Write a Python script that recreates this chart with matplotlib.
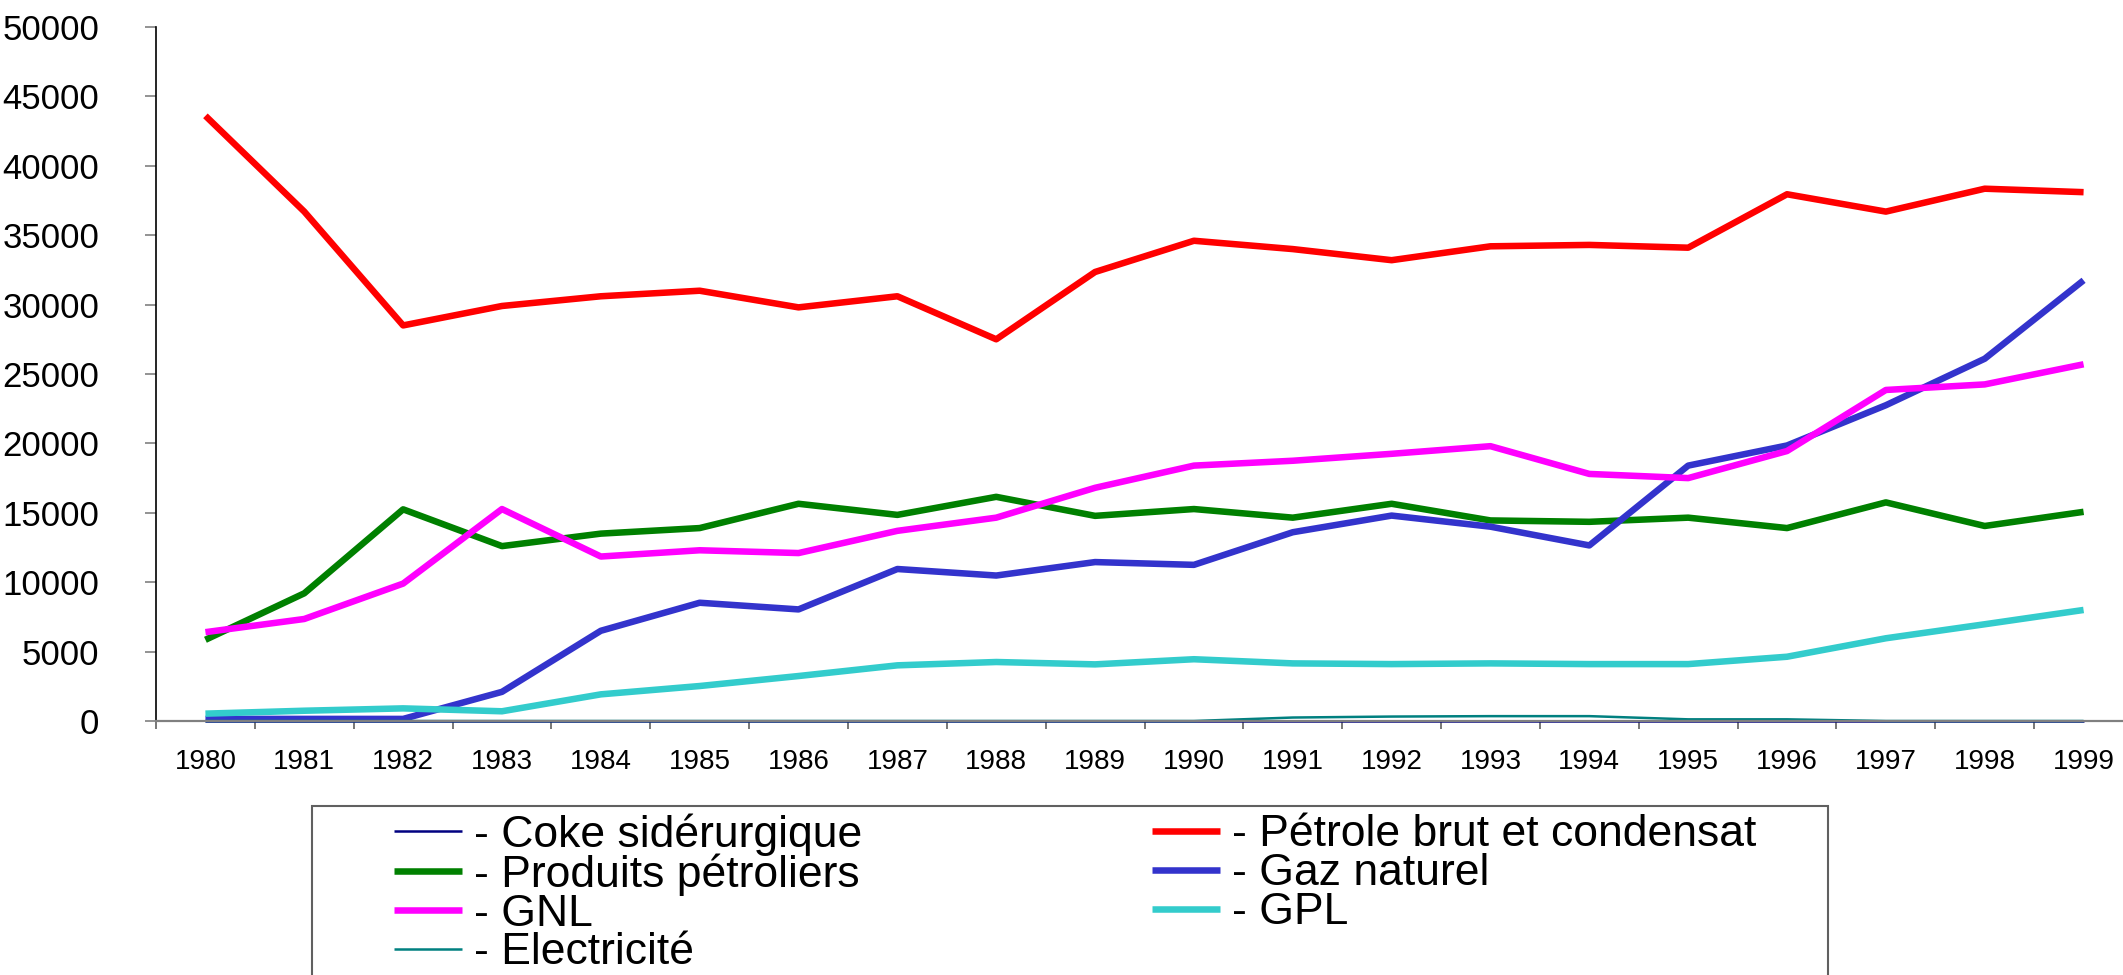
import numpy as np
import matplotlib
matplotlib.use("Agg")
import matplotlib.pyplot as plt
from matplotlib.patches import Rectangle

plt.rcParams['font.family'] = ['Liberation Sans', 'DejaVu Sans']

# Data
years = [str(y) for y in range(1980, 2000)]

coke = [0] * 20
petrole = [43600, 36700, 28500, 29900, 30600, 31000, 29800, 30600, 27500, 32350,
           34600, 34000, 33200, 34200, 34300, 34100, 37950, 36700, 38350, 38100]
produits = [5850, 9200, 15250, 12600, 13500, 13900, 15650, 14850, 16150, 14780,
            15270, 14650, 15650, 14450, 14350, 14650, 13900, 15750, 14050, 15070]
gaz = [150, 150, 150, 2100, 6500, 8520, 8040, 10950, 10480, 11450,
       11250, 13600, 14800, 14000, 12650, 18400, 19850, 22750, 26100, 31750]
gnl = [6400, 7350, 9900, 15270, 11850, 12300, 12100, 13700, 14650, 16800,
       18400, 18750, 19250, 19800, 17800, 17500, 19450, 23850, 24250, 25700]
gpl = [530, 740, 910, 700, 1920, 2520, 3240, 4010, 4250, 4080,
       4450, 4150, 4100, 4150, 4100, 4100, 4630, 5960, 6970, 8000]
elec = [0, 0, 0, 0, 0, 0, 0, 0, 0, 0,
        0, 250, 320, 350, 350, 120, 120, 0, 0, 0]

labels = ['- Coke sidérurgique', '- Pétrole brut et condensat', '- Produits pétroliers',
          '- Gaz naturel', '- GNL', '- GPL', '- Electricité']
series = [coke, petrole, produits, gaz, gnl, gpl, elec]
colors = ['#000080', '#FF0000', '#008000', '#3333CC', '#FF00FF', '#33CCCC', '#008080']
widths = [1.8, 4.7, 4.7, 4.7, 4.7, 4.7, 1.8]

W, H = 2123, 975
fig = plt.figure(figsize=(W / 100, H / 100), dpi=100)
ax = fig.add_axes([156 / W, 1 - 721 / H, 1977 / W, 694 / H])

x = np.arange(len(years))
lines = []
for s, c, lw, lab in zip(series, colors, widths, labels):
    ln, = ax.plot(x, s, color=c, lw=lw, label=lab, solid_capstyle='butt', clip_on=False)
    lines.append(ln)

ax.set_xlim(-0.5, len(years) - 0.5)
ax.set_ylim(0, 50000)
ax.set_yticks(np.arange(0, 50001, 5000))
ax.set_xticks(x)
ax.set_xticklabels(years)
ax.set_xticks(np.arange(-0.5, len(years), 1), minor=True)

ax.tick_params(axis='y', labelsize=25, length=8, width=1.2, color='#808080', pad=33)
ax.tick_params(axis='x', which='major', labelsize=20, length=0, pad=20)
ax.tick_params(axis='x', which='minor', length=6, width=1.2, color='#606060')

ax.spines['top'].set_visible(False)
ax.spines['right'].set_visible(False)
ax.spines['left'].set_color('#000000')
ax.spines['left'].set_linewidth(1.2)
ax.spines['bottom'].set_color('#808080')
ax.spines['bottom'].set_linewidth(1.6)

# legend box drawn separately, legend itself frameless
fig.patches.append(Rectangle((312 / W, -0.05), (1828 - 312) / W, 0.05 + 1 - 806 / H,
                             transform=fig.transFigure, fill=False,
                             edgecolor='#606060', lw=1.5))

order = [0, 2, 4, 6, 1, 3, 5]
fig.legend([lines[i] for i in order], [labels[i] for i in order],
           loc='upper left', bbox_to_anchor=(394 / W, 1 - 813 / H), ncol=2,
           frameon=False, fontsize=32, borderpad=0, borderaxespad=0,
           handlelength=1.52, handletextpad=0.28, columnspacing=6.53,
           labelspacing=-0.05)

fig.savefig('out.png', dpi=100)
